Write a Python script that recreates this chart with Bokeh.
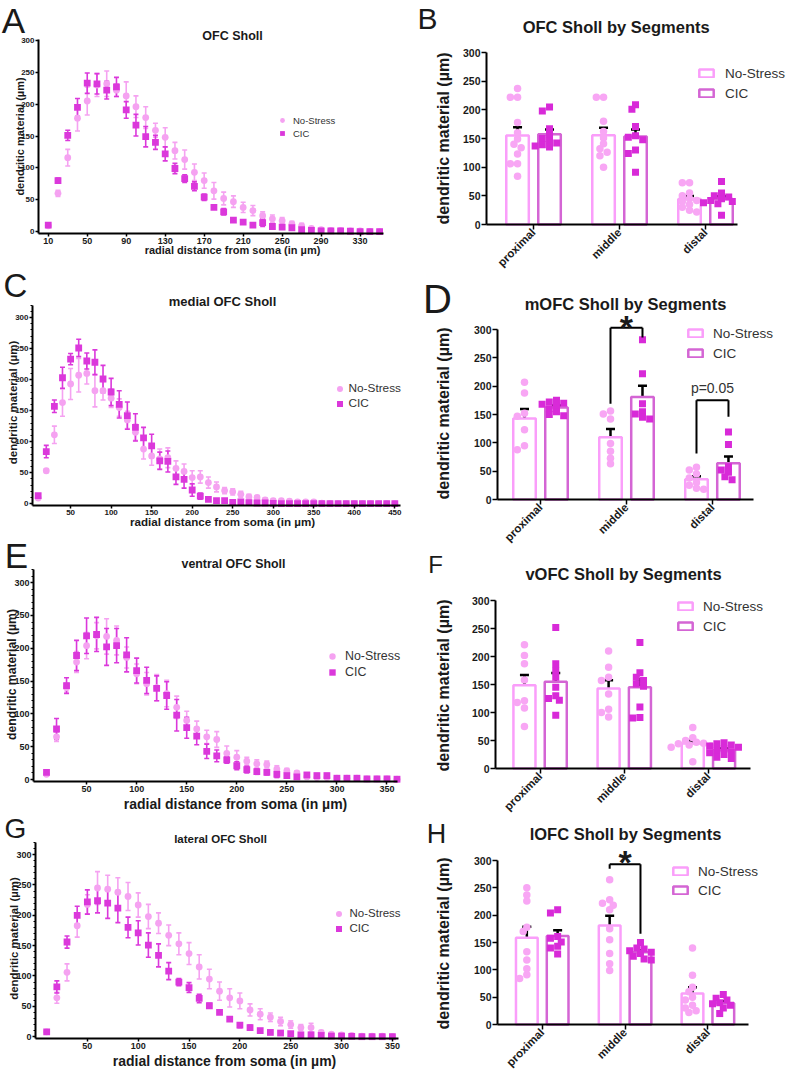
import numpy as np
from math import pi
from bokeh.plotting import figure
from bokeh.layouts import column, row
from bokeh.models import (ColumnDataSource, Whisker, TeeHead, Label, Legend, LegendItem,
                          FixedTicker, Range1d, Arrow)
from bokeh.embed import file_html
from bokeh.resources import INLINE

# ---------------- data ----------------
radii_A = list(range(10, 351, 10))
A_ns_mean = [9, 60, 116, 178, 205, 230, 232, 222, 213, 196, 179, 159, 148, 127, 113, 93, 80, 64, 52, 47,
             38, 33, 25, 20, 17, 12, 9, 5, 3, 2, 2, 1, 1, 0.5, 0]
A_ns_sem = [1, 5, 13, 20, 22, 18, 20, 10, 22, 17, 17, 11, 15, 13, 15, 13, 12, 13, 10, 9,
            8, 8, 6, 6, 5, 4, 4, 2, 1.5, 1, 1, 1, 0.5, 0.5, 0]
A_cic_mean = [10, 80, 151, 195, 233, 232, 222, 227, 191, 167, 149, 140, 122, 99, 83, 71, 54, 38, 31, 18,
              15, 10, 14, 8, 7, 6, 3, 2, 1, 1, 1, 0.5, 0, 0, 0]
A_cic_sem = [1, 4, 8, 14, 16, 16, 14, 15, 13, 17, 16, 11, 11, 8, 6, 7, 5, 3, 5, 3,
             2, 2, 6, 3, 2, 2, 2, 1, 0.5, 0.5, 0.5, 0.5, 0, 0, 0]

radii_C = list(range(10, 451, 10))
C_ns_mean = [9, 53, 111, 163, 193, 207, 210, 182, 182, 170, 155, 135, 115, 88, 77, 72, 74, 57, 52, 42,
             43, 34, 27, 21, 19, 15, 11, 10, 6, 5, 5, 4, 3, 3, 3, 1, 0.5, 0, 0, 0, 0, 0, 0, 0, 0]
C_ns_sem = [1, 3, 14, 22, 25, 27, 17, 26, 15, 15, 14, 14, 13, 16, 15, 16, 16, 12, 12, 11,
            10, 9, 8, 5, 5, 5, 4, 3, 3, 3, 2, 2, 2, 2, 2, 1, 0.5, 0, 0, 0, 0, 0, 0, 0, 0]
C_cic_mean = [13, 84, 157, 203, 233, 251, 230, 228, 201, 180, 160, 142, 123, 106, 93, 69, 68, 43, 39, 22,
              12, 7, 5, 5, 2, 3, 1.5, 1, 1, 0.5, 0, 0, 0, 0, 0, 0, 0, 0, 0, 0, 0, 0, 0, 0, 0]
C_cic_sem = [2, 10, 10, 17, 9, 14, 13, 20, 22, 22, 22, 22, 22, 17, 19, 14, 17, 12, 14, 10,
             5, 3, 2, 3, 1, 1, 1, 0.5, 0.5, 0.5, 0, 0, 0, 0, 0, 0, 0, 0, 0, 0, 0, 0, 0, 0, 0]

radii_E = list(range(10, 361, 10))
E_ns_mean = [8, 65, 140, 179, 204, 219, 218, 212, 186, 161, 146, 140, 131, 110, 90, 77, 65, 61, 40, 34,
             28, 24, 23, 16, 13, 10, 4, 3, 3, 2, 2, 2, 1, 1, 1, 0.5]
E_ns_sem = [1, 7, 7, 16, 20, 20, 27, 22, 16, 15, 17, 20, 20, 17, 14, 12, 10, 12, 11, 10,
            6, 6, 5, 5, 4, 3, 2, 1.5, 1.5, 1, 1, 1, 0.5, 0.5, 0.5, 0.3]
E_cic_mean = [11, 77, 143, 189, 219, 221, 202, 204, 190, 166, 151, 139, 128, 98, 79, 66, 43, 36, 30, 21,
              15, 12, 11, 8, 6, 4, 7, 6, 6, 2, 2, 2, 1, 1, 1, 0.5]
E_cic_sem = [1, 16, 12, 23, 27, 26, 28, 26, 26, 19, 20, 19, 21, 24, 16, 13, 11, 9, 5, 6,
             5, 4, 4, 5, 4, 3, 3, 3, 3, 1, 1, 1, 0.5, 0.5, 0.5, 0.3]

radii_G = list(range(10, 351, 10))
G_ns_mean = [8, 64, 106, 183, 218, 245, 243, 238, 231, 217, 198, 187, 167, 153, 137, 115, 95, 75, 64, 59,
             44, 37, 32, 25, 20, 15, 15, 7, 4, 3, 2, 1, 1, 1, 0.5]
G_ns_sem = [1, 9, 14, 19, 16, 27, 23, 24, 23, 20, 20, 17, 17, 18, 18, 20, 16, 15, 15, 13,
            10, 9, 7, 7, 6, 5, 7, 3, 2, 1.5, 1, 1, 0.5, 0.5, 0.3]
G_cic_mean = [8, 82, 156, 200, 222, 224, 220, 212, 180, 171, 151, 134, 108, 90, 81, 63, 51, 40, 29, 19,
              15, 10, 7, 6, 5, 3, 3, 2, 1, 1, 0.5, 0, 0, 0, 0]
G_cic_sem = [1, 10, 10, 15, 20, 20, 25, 24, 17, 20, 20, 19, 14, 6, 8, 7, 4, 3, 3, 4,
             4, 2, 2, 2, 2, 1, 1, 1, 0.5, 0.5, 0.3, 0, 0, 0, 0]

segments = ["proximal", "middle", "distal"]
B_ns = [[237, 222, 222, 178, 160, 149, 140, 134, 123, 106, 106, 84],
        [222, 222, 180, 162, 151, 141, 132, 126, 120, 100],
        [73, 73, 55, 50, 45, 42, 40, 35, 30, 25, 22]]
B_cic = [[205, 198, 167, 157, 150, 146, 142, 139, 137, 135],
         [209, 201, 171, 155, 152, 148, 130, 124, 91],
         [75, 55, 50, 48, 45, 42, 40, 38, 36, 16]]
D_ns = [[207, 188, 152, 147, 123, 95, 88],
        [156, 151, 142, 99, 85, 73, 63],
        [57, 52, 45, 38, 30, 25, 20, 18]]
D_cic = [[175, 172, 170, 168, 165, 160, 155, 150, 148],
         [282, 222, 169, 155, 151, 145, 142],
         [119, 97, 58, 52, 48, 40, 35]]
F_ns = [[221, 202, 187, 158, 121, 118, 108, 75],
        [210, 181, 163, 157, 133, 106, 100, 92],
        [73, 55, 50, 47, 45, 44, 42, 40, 38, 12]]
F_cic = [[252, 187, 175, 163, 145, 130, 125, 122, 95],
         [225, 171, 163, 157, 151, 147, 110, 91, 90],
         [46, 44, 42, 40, 38, 35, 32, 30, 28, 25, 20, 18]]
H_ns = [[250, 237, 226, 178, 170, 133, 118, 102, 91, 84],
        [265, 228, 222, 218, 210, 175, 155, 130, 111, 99],
        [140, 90, 68, 60, 50, 45, 35, 30, 25, 22]]
H_cic = [[210, 204, 161, 158, 151, 143, 140, 129],
         [150, 140, 138, 135, 132, 130, 125, 120, 118],
         [55, 48, 45, 40, 38, 35, 30, 20]]

# significance: (segment, left foot, top, right foot, text, text y)
D_sig = [("middle", 169, 303, 286, "*", 305), ("distal", 81, 175, 146, "p=0.05", 196)]
H_sig = [("middle", 285, 293, 166, "*", 298)]

# ---------------- style ----------------
FONT = "Liberation Sans"
NS_C = "#f5a2f1"
CIC_C = "#db38db"
NS_BAR = "#fa9efa"
CIC_BAR = "#d465d4"
NS_PT = "#f8a6f4"
CIC_PT = "#d82ad8"
TXT = "#1a1a1a"


def make_fig(g):
    """Frame covers the whole canvas; axes are pinned (fixed_location) to the plot box."""
    w, h = g["w"], g["h"]
    (x0, x1), (y0, y1) = g["xr"], g["yr"]
    sx = (g["fr"] - g["fl"]) / (x1 - x0)
    sy = (g["fb"] - g["ft"]) / (y1 - y0)
    xs = x0 - g["fl"] / sx
    xe = x0 + (w - g["fl"]) / sx
    ys = y0 - (h - g["fb"]) / sy
    ye = y1 + g["ft"] / sy
    p = figure(width=w, height=h, x_range=Range1d(xs, xe), y_range=Range1d(ys, ye),
               output_backend="svg", toolbar_location=None,
               min_border=0, min_border_left=0, min_border_right=0,
               min_border_top=0, min_border_bottom=0)
    p.title.visible = False
    p.xgrid.visible = False
    p.ygrid.visible = False
    p.outline_line_color = None
    xa, ya = p.xaxis[0], p.yaxis[0]
    xa.fixed_location = y0
    xa.bounds = (x0, x1)
    ya.fixed_location = x0
    ya.bounds = (y0, y1)
    return p


def style_axis(ax, fs, ticks, minor=None, lw=2, tick_out=4):
    ax.ticker = FixedTicker(ticks=list(ticks), minor_ticks=list(minor) if minor else [])
    ax.axis_line_width = lw
    ax.axis_line_color = "black"
    ax.major_tick_line_width = 1.5
    ax.major_tick_line_color = "black"
    ax.major_tick_out = tick_out
    ax.major_tick_in = 0
    ax.minor_tick_in = 0
    ax.minor_tick_out = 2 if minor else 0
    ax.minor_tick_line_color = "black" if minor else None
    ax.major_label_text_font = FONT
    ax.major_label_text_font_style = "bold"
    ax.major_label_text_font_size = f"{fs}px"
    ax.major_label_text_color = TXT
    ax.major_label_standoff = 1


def txt(p, g, lx, ly, text, fs, bold=False, angle=0.0, color=TXT, align="center", baseline="middle"):
    p.add_layout(Label(x=lx, y=g["h"] - ly, x_units="screen", y_units="screen",
                       text=text, text_font=FONT, text_font_size=f"{fs}px",
                       text_font_style="bold" if bold else "normal", text_color=color,
                       angle=angle, text_align=align, text_baseline=baseline))


def add_legend(p, g, items, mcx, tx, row0, pitch, fs, gw, gh):
    n = len(items)
    rh = max(gh, int(round(fs * 1.15)))
    spacing = max(0, pitch - rh)
    left = mcx - gw / 2
    standoff = int(round(tx - (left + gw)))
    bottom_local = row0 + (n - 1) * pitch + rh / 2
    leg = Legend(items=items, location=(left, g["h"] - bottom_local),
                 orientation="vertical", padding=0, margin=0, spacing=spacing,
                 glyph_width=gw, glyph_height=gh, label_height=rh, label_standoff=standoff,
                 border_line_color=None, background_fill_alpha=0,
                 label_text_font=FONT, label_text_font_size=f"{fs}px", label_text_color="#333333")
    p.add_layout(leg)


def sholl_panel(g, radii, ns_m, ns_s, cic_m, cic_s):
    p = make_fig(g)
    ns_m = np.array(ns_m, float); ns_s = np.array(ns_s, float)
    cic_m = np.array(cic_m, float); cic_s = np.array(cic_s, float)
    s_ns = ColumnDataSource(dict(x=radii, y=ns_m, lo=ns_m - ns_s, hi=ns_m + ns_s))
    s_cic = ColumnDataSource(dict(x=radii, y=cic_m, lo=cic_m - cic_s, hi=cic_m + cic_s))
    for src, col in ((s_ns, NS_C), (s_cic, CIC_C)):
        w = Whisker(source=src, base="x", lower="lo", upper="hi", line_color=col, line_width=1.6,
                    upper_head=TeeHead(size=5, line_color=col, line_width=1.6),
                    lower_head=TeeHead(size=5, line_color=col, line_width=1.6))
        w.level = "underlay"
        p.add_layout(w)
    r_ns = p.scatter("x", "y", source=s_ns, marker="circle", size=6.8, fill_color=NS_C, line_color=None)
    r_cic = p.scatter("x", "y", source=s_cic, marker="square", size=6.8, fill_color=CIC_C, line_color=None)
    style_axis(p.xaxis[0], g["xfs"], g["xticks"], tick_out=3)
    style_axis(p.yaxis[0], g["yfs"], range(0, 301, 50),
               minor=range(0, 321, 10) if g["minor"] else None, tick_out=3)
    L, lx, ly, lfs = g["letter"]
    txt(p, g, lx, ly, L, lfs)
    t, tx_, ty, tfs = g["title"]
    txt(p, g, tx_, ty, t, tfs, bold=True)
    yx, yy, yfs = g["ylab"]
    txt(p, g, yx, yy, "dendritic material (µm)", yfs, bold=True, angle=pi / 2)
    xx, xy, xfs = g["xlab"]
    txt(p, g, xx, xy, "radial distance from soma (in µm)", xfs, bold=True)
    mcx, tx2, row0, pitch, lfs2 = g["leg"]
    gsz = int(round(lfs2 * 1.3))
    add_legend(p, g, [LegendItem(label="No-Stress", renderers=[r_ns]),
                      LegendItem(label="CIC", renderers=[r_cic])],
               mcx, tx2, row0, pitch, lfs2, gsz, gsz)
    return p


def swarm(vals, ypx, xpx, d=5.5, step=3.6):
    placed = []
    offs = np.zeros(len(vals))
    order = np.argsort(-np.asarray(vals, float), kind="stable")
    cands = [0.0]
    for k in range(1, 20):
        cands += [-k * step, k * step]
    for i in order:
        yy = vals[i] * ypx
        chosen = cands[-1]
        for c in cands:
            if all((c - px) ** 2 + (yy - py) ** 2 >= d ** 2 for px, py in placed):
                chosen = c
                break
        placed.append((chosen, yy))
        offs[i] = chosen / xpx
    return offs


def bar_panel(g, ns_groups, cic_groups, sig=None):
    p = make_fig(g)
    xc = np.arange(len(segments)) + 1.0
    off, bw = 0.186, 0.262
    xpx = (g["fr"] - g["fl"]) / (g["xr"][1] - g["xr"][0])
    ypx = (g["fb"] - g["ft"]) / 300.0
    ns_mean = [float(np.mean(v)) for v in ns_groups]
    cic_mean = [float(np.mean(v)) for v in cic_groups]
    ns_sem = [float(np.std(v, ddof=1) / np.sqrt(len(v))) for v in ns_groups]
    cic_sem = [float(np.std(v, ddof=1) / np.sqrt(len(v))) for v in cic_groups]
    r_ns = p.vbar(x=xc - off, top=ns_mean, width=bw, bottom=0, fill_color="white",
                  line_color=NS_BAR, line_width=2.5)
    r_cic = p.vbar(x=xc + off, top=cic_mean, width=bw, bottom=0, fill_color="white",
                   line_color=CIC_BAR, line_width=2.5)
    for gi in range(len(segments)):
        o = swarm(ns_groups[gi], ypx, xpx)
        p.scatter(xc[gi] - off + o, ns_groups[gi], marker="circle", size=7.5,
                  fill_color=NS_PT, line_color=None)
        o = swarm(cic_groups[gi], ypx, xpx)
        p.scatter(xc[gi] + off + o, cic_groups[gi], marker="square", size=7,
                  fill_color=CIC_PT, line_color=None)
    src = ColumnDataSource(dict(x=list(xc - off) + list(xc + off),
                                lo=ns_mean + cic_mean,
                                hi=[m + s for m, s in zip(ns_mean, ns_sem)] +
                                   [m + s for m, s in zip(cic_mean, cic_sem)]))
    p.add_layout(Whisker(source=src, base="x", lower="lo", upper="hi", line_color="black",
                         line_width=2.5, lower_head=None,
                         upper_head=TeeHead(size=9, line_color="black", line_width=2.5)))
    xa = p.xaxis[0]
    style_axis(xa, 11.5, xc, tick_out=5)
    xa.major_label_overrides = {int(x): s for x, s in zip(xc, segments)}
    xa.major_label_orientation = pi / 4
    xa.major_label_standoff = 1
    style_axis(p.yaxis[0], 10.5, range(0, 301, 50), tick_out=5)
    if sig:
        for seg, yl, yt, yr, lab, ly in sig:
            i = segments.index(seg)
            x0, x1 = xc[i] - off, xc[i] + off
            for (xa_, ya_, xb_, yb_) in ((x0, yl, x0, yt), (x0, yt, x1, yt), (x1, yt, x1, yr)):
                p.add_layout(Arrow(start=None, end=None, x_start=xa_, y_start=ya_, x_end=xb_, y_end=yb_,
                                   line_color="black", line_width=2))
            star = lab == "*"
            p.add_layout(Label(x=xc[i], y=ly, text=lab, text_align="center", text_baseline="middle",
                               text_font=FONT, text_font_size="34px" if star else "14px",
                               text_font_style="bold" if star else "normal",
                               text_color=TXT if star else "#333333"))
    L, lx, ly, lfs = g["letter"]
    txt(p, g, lx, ly, L, lfs)
    t, tx_, ty, tfs = g["title"]
    txt(p, g, tx_, ty, t, tfs, bold=True)
    yx, yy, yfs = g["ylab"]
    txt(p, g, yx, yy, "dendritic material (µm)", yfs, bold=True, angle=pi / 2)
    bcx, tx2, row0, pitch, lfs2 = g["leg"]
    add_legend(p, g, [LegendItem(label="No-Stress", renderers=[r_ns]),
                      LegendItem(label="CIC", renderers=[r_cic])],
               bcx, tx2, row0, pitch, lfs2, 18, 10)
    return p


# ---- panel geometry (pixels inside each figure) ----
# left column (402 wide)
gA = dict(w=402, h=262, fl=38, fr=383, ft=39, fb=233, xr=(0, 354), yr=(-3, 301.5),
          xticks=range(10, 331, 40), xfs=9, yfs=8, minor=False,
          letter=("A", 13, 20, 35), title=("OFC Sholl", 232, 35, 12.5),
          ylab=(19, 136, 11), xlab=(232, 249, 11), leg=(282, 293, 120, 13, 9.5))
gC = dict(w=402, h=268, fl=32, fr=400, ft=43, fb=243, xr=(3, 457), yr=(-3, 319.5),
          xticks=range(50, 451, 50), xfs=8, yfs=8, minor=True,
          letter=("C", 15, 23, 33), title=("medial OFC Sholl", 222, 39, 13),
          ylab=(12, 140, 11.5), xlab=(222, 259, 11.6), leg=(339, 349, 126, 15, 11.8))
gE = dict(w=402, h=282, fl=33, fr=397, ft=39, fb=251, xr=(-3, 360.5), yr=(-3, 320),
          xticks=range(50, 351, 50), xfs=9, yfs=9, minor=True,
          letter=("E", 16, 25, 35), title=("ventral OFC Sholl", 233, 33, 12.4),
          ylab=(11, 144, 12.2), xlab=(235, 273, 14), leg=(332, 345, 127, 15, 12.4))
gG = dict(w=402, h=261, fl=35, fr=398, ft=30, fb=226, xr=(-1, 356), yr=(-3, 320),
          xticks=range(50, 351, 50), xfs=9, yfs=9, minor=True,
          letter=("G", 15, 16, 28), title=("lateral OFC Sholl", 220, 26, 11.5),
          ylab=(13, 126, 11.4), xlab=(224, 248, 14), leg=(338, 350, 103, 13, 11.5))

# right column (387 wide)
gB = dict(w=387, h=275, fl=84, fr=335, ft=52, fb=224, xr=(0.453, 3.372), yr=(0, 300),
          letter=("B", 25, 18, 30), title=("OFC  Sholl by Segments", 216, 26, 16.5),
          ylab=(41, 138, 16), leg=(304, 323, 73, 20, 13.5))
gD = dict(w=387, h=275, fl=95, fr=351, ft=54, fb=224, xr=(0.5, 3.477), yr=(0, 300),
          letter=("D", 35, 23, 40), title=("mOFC Sholl by Segments", 223, 28, 16.5),
          ylab=(41, 138, 16), leg=(293, 311, 58, 20, 13.5))
gF = dict(w=387, h=268, fl=93, fr=348, ft=50, fb=218, xr=(0.47, 3.5), yr=(0, 300),
          letter=("F", 33, 14, 24), title=("vOFC Sholl by Segments", 221, 23, 16.5),
          ylab=(41, 135, 16), leg=(283, 301, 56, 20, 13.5))
gH = dict(w=387, h=255, fl=95, fr=346, ft=42, fb=206, xr=(0.46, 3.49), yr=(0, 300),
          letter=("H", 34, 15, 27), title=("lOFC Sholl by Segments", 223, 15, 16.5),
          ylab=(41, 125, 16), leg=(278, 296, 53, 19, 13.5))

pA = sholl_panel(gA, radii_A, A_ns_mean, A_ns_sem, A_cic_mean, A_cic_sem)
pC = sholl_panel(gC, radii_C, C_ns_mean, C_ns_sem, C_cic_mean, C_cic_sem)
pE = sholl_panel(gE, radii_E, E_ns_mean, E_ns_sem, E_cic_mean, E_cic_sem)
pG = sholl_panel(gG, radii_G, G_ns_mean, G_ns_sem, G_cic_mean, G_cic_sem)
pB = bar_panel(gB, B_ns, B_cic)
pD = bar_panel(gD, D_ns, D_cic, D_sig)
pF = bar_panel(gF, F_ns, F_cic)
pH = bar_panel(gH, H_ns, H_cic, H_sig)

layout = row(column(pA, pC, pE, pG), column(pB, pD, pF, pH))
open("out.html", "w").write(file_html(layout, INLINE))
